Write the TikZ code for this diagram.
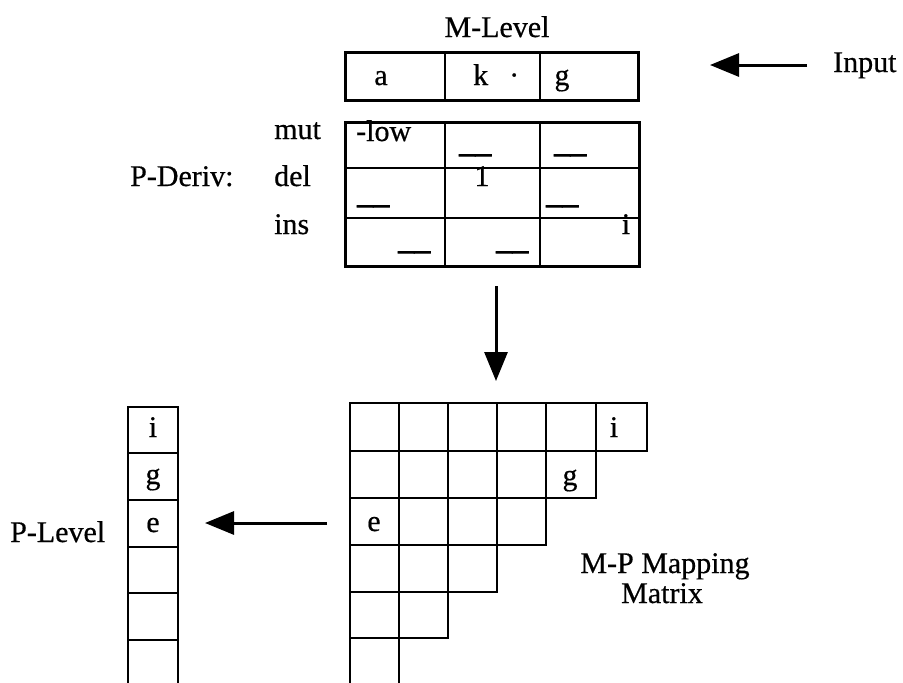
\documentclass[tikz,border=0pt]{standalone}
\usepackage{fontspec}
\setmainfont{Liberation Serif}[FakeBold=0.5]
\newfontfamily\ulfont{Liberation Serif}[FakeBold=2.5]
\usetikzlibrary{arrows.meta}
\tikzset{
  lbl/.style={font=\fontsize{30}{32}\selectfont, inner sep=0pt, anchor=base},
  lblw/.style={lbl, anchor=base west},
  gridline/.style={line width=2.4pt, line cap=rect, line join=miter},
  outline/.style={line width=3pt, line join=miter},
  arr/.style={line width=3pt, -{Triangle[length=29pt,width=23pt]}},
  uline/.style={lblw, font=\ulfont\fontsize{32}{32}\selectfont},
}
\begin{document}
\begin{tikzpicture}[x=1pt,y=-1pt]
\useasboundingbox (0,0) rectangle (903,683);
\fill[white] (0,0) rectangle (903,683);

% ---------- M-Level ----------
\node[lbl] (mlevel) at (497,37) {M-Level};
\draw[outline] (345,52) rectangle (638,100);
\draw[gridline] (445,52) -- (445,100);
\draw[gridline] (540,52) -- (540,100);
\node[lbl] (ma) at (381,85) {a};
\node[lblw] (mk) at (473,85) {k\hspace{21pt}·};
\node[lbl] (mg) at (562,85) {g};

\node[lblw] (input) at (833,72) {Input};
\coordinate (inA) at (807,65);
\coordinate (inB) at (710,65);
\draw[arr] (inA) -- (inB);

% ---------- P-Deriv ----------
\draw[outline] (345,122) rectangle (639,266);
\draw[gridline] (345,168) -- (639,168);
\draw[gridline] (345,218) -- (639,218);
\draw[gridline] (445,122) -- (445,266);
\draw[gridline] (540,122) -- (540,266);

\node[lblw] (pderiv) at (130,186) {P-Deriv:};
\node[lblw] (mut) at (274,139) {mut};
\node[lblw] (del) at (274,186) {del};
\node[lblw] (ins) at (274,234) {ins};

\node[lblw] (low) at (356,141) {-low};
\node[uline] (u12) at (459,152) {\_\_};
\node[uline] (u13) at (554,152) {\_\_};
\node[uline] (u21) at (357,203) {\_\_};
\node[lbl] (one) at (482,186) {1};
\node[uline] (u23) at (546,203) {\_\_};
\node[uline] (u31) at (398,249) {\_\_};
\node[uline] (u32) at (496,249) {\_\_};
\node[lbl] (ii) at (626,234) {i};

% ---------- down arrow ----------
\coordinate (dA) at (496,286);
\coordinate (dB) at (496,381);
\draw[arr] (dA) -- (dB);

% ---------- M-P mapping matrix ----------
\def\xs{{350,399,448,497,546,596,647}}
\def\ys{{403,451,498,545,592,638,700}}
\foreach \r in {0,...,5}{
  \pgfmathtruncatemacro{\last}{5-\r}
  \foreach \c in {0,...,\last}{
    \pgfmathsetmacro{\xa}{\xs[\c]}
    \pgfmathsetmacro{\xb}{\xs[\c+1]}
    \pgfmathsetmacro{\ya}{\ys[\r]}
    \pgfmathsetmacro{\yb}{\ys[\r+1]}
    \draw[gridline] (\xa,\ya) rectangle (\xb,\yb);
  }
}
\node[lbl] (mi) at (614,437) {i};
\node[lbl] (mgg) at (570,485) {g};
\node[lbl] (me) at (374,531) {e};

\node[lbl] (mpmap) at (665,573) {M-P Mapping};
\node[lbl] (matrix) at (662,603) {Matrix};

% ---------- P-Level ----------
\foreach \ya/\yb in {407/453,453/500,500/547,547/593,593/640,640/700}{
  \draw[gridline] (128,\ya) rectangle (178,\yb);
}
\node[lbl] (pi) at (153,437) {i};
\node[lbl] (pg) at (153,484) {g};
\node[lbl] (pe) at (153,532) {e};
\node[lblw] (plevel) at (10,542) {P-Level};

\coordinate (lA) at (327,523);
\coordinate (lB) at (205,523);
\draw[arr] (lA) -- (lB);
\end{tikzpicture}
\end{document}
